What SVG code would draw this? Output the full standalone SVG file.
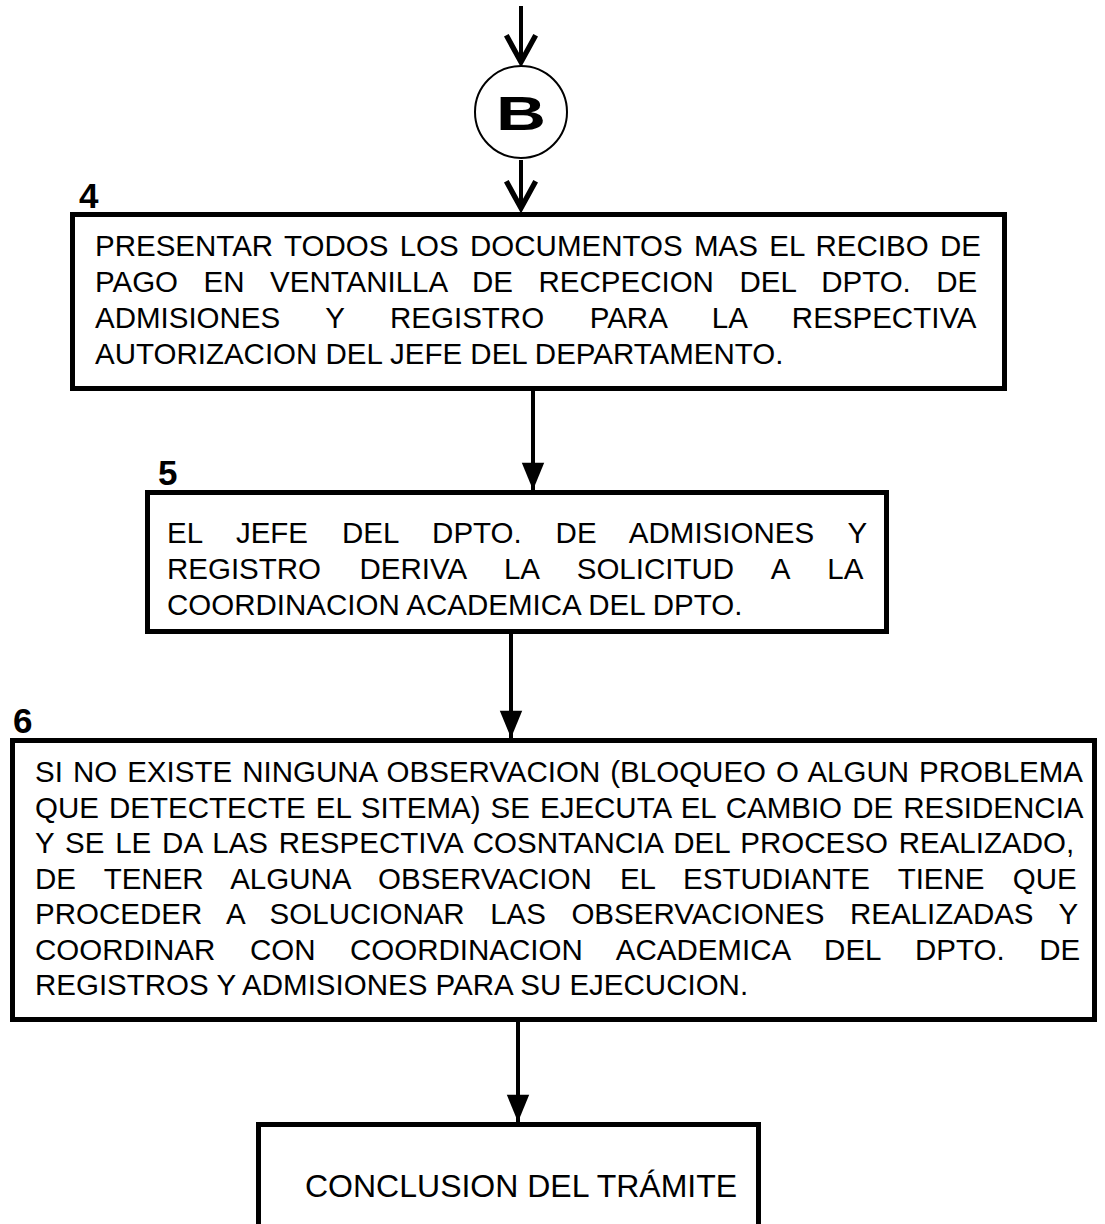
<svg xmlns="http://www.w3.org/2000/svg" width="1105" height="1224" viewBox="0 0 1105 1224">
<style>
  .box { fill: #ffffff; stroke: #000000; stroke-width: 5; }
  .conn { stroke: #000000; stroke-width: 4; fill: none; }
  .t { font-family: "Liberation Sans", Arial, sans-serif; font-size: 29.5px; fill: #000000; }
  .num { font-family: "Liberation Sans", Arial, sans-serif; font-size: 35px; font-weight: bold; fill: #000000; }
</style>
<defs>
  <marker id="chev" markerUnits="userSpaceOnUse" markerWidth="40" markerHeight="40" refX="0" refY="0" viewBox="-25 -15 30 30" orient="auto" overflow="visible">
    <path d="M-20,-11 L0,0 L-20,11" fill="none" stroke="#000" stroke-width="4" stroke-linejoin="miter"/>
  </marker>
  <marker id="tri" markerUnits="userSpaceOnUse" markerWidth="40" markerHeight="40" refX="0" refY="0" viewBox="-20 -10 25 20" orient="auto" overflow="visible">
    <path d="M-17,-7 L0,0 L-17,7 Z" fill="#000"/>
  </marker>
</defs>
<rect width="1105" height="1224" fill="#ffffff"/>
<g id="connectors">
  <line class="conn" x1="521" y1="6" x2="521" y2="62" marker-end="url(#chev)"/>
  <line class="conn" x1="521" y1="160" x2="521" y2="208" marker-end="url(#chev)"/>
  <line class="conn" x1="533" y1="391" x2="533" y2="490" marker-end="url(#tri)"/>
  <line class="conn" x1="511" y1="634" x2="511" y2="738" marker-end="url(#tri)"/>
  <line class="conn" x1="518" y1="1022" x2="518" y2="1122" marker-end="url(#tri)"/>
</g>
<g id="connector-B">
  <circle cx="521" cy="112" r="46" fill="#ffffff" stroke="#000" stroke-width="2"/>
  <text x="521" y="130" text-anchor="middle" font-family="'Liberation Sans', Arial, sans-serif" font-weight="bold" font-size="48" textLength="50" lengthAdjust="spacingAndGlyphs">B</text>
</g>
<g id="step4">
  <text class="num" x="79" y="208">4</text>
  <rect class="box" x="72.5" y="214.5" width="932" height="174"/>
  <text class="t" x="95" y="256" word-spacing="3.16">PRESENTAR TODOS LOS DOCUMENTOS MAS EL RECIBO DE</text>
  <text class="t" x="95" y="292" word-spacing="17.3">PAGO EN VENTANILLA DE RECPECION DEL DPTO. DE</text>
  <text class="t" x="95" y="328" word-spacing="37.4">ADMISIONES Y REGISTRO PARA LA RESPECTIVA</text>
  <text class="t" x="95" y="364">AUTORIZACION DEL JEFE DEL DEPARTAMENTO.</text>
</g>
<g id="step5">
  <text class="num" x="158" y="485">5</text>
  <rect class="box" x="147.5" y="492.5" width="739" height="139"/>
  <text class="t" x="167" y="543" word-spacing="25.7">EL JEFE DEL DPTO. DE ADMISIONES Y</text>
  <text class="t" x="167" y="579" word-spacing="30.2">REGISTRO DERIVA LA SOLICITUD A LA</text>
  <text class="t" x="167" y="615">COORDINACION ACADEMICA DEL DPTO.</text>
</g>
<g id="step6">
  <text class="num" x="13" y="733">6</text>
  <rect class="box" x="12.5" y="740.5" width="1082" height="279"/>
  <text class="t" x="35" y="782" word-spacing="1.84">SI NO EXISTE NINGUNA OBSERVACION (BLOQUEO O ALGUN PROBLEMA</text>
  <text class="t" x="35" y="818" word-spacing="1.88">QUE DETECTECTE EL SITEMA) SE EJECUTA EL CAMBIO DE RESIDENCIA</text>
  <text class="t" x="35" y="853" word-spacing="2.64">Y SE LE DA LAS RESPECTIVA COSNTANCIA DEL PROCESO REALIZADO,</text>
  <text class="t" x="35" y="889" word-spacing="20.0">DE TENER ALGUNA OBSERVACION EL ESTUDIANTE TIENE QUE</text>
  <text class="t" x="35" y="924" word-spacing="17.3">PROCEDER A SOLUCIONAR LAS OBSERVACIONES REALIZADAS Y</text>
  <text class="t" x="35" y="960" word-spacing="26.4">COORDINAR CON COORDINACION ACADEMICA DEL DPTO. DE</text>
  <text class="t" x="35" y="995">REGISTROS Y ADMISIONES PARA SU EJECUCION.</text>
</g>
<g id="end">
  <rect class="box" x="258.5" y="1124.5" width="500" height="120"/>
  <text class="t" x="305" y="1197" style="font-size:32px">CONCLUSION DEL TRÁMITE</text>
</g>
</svg>
